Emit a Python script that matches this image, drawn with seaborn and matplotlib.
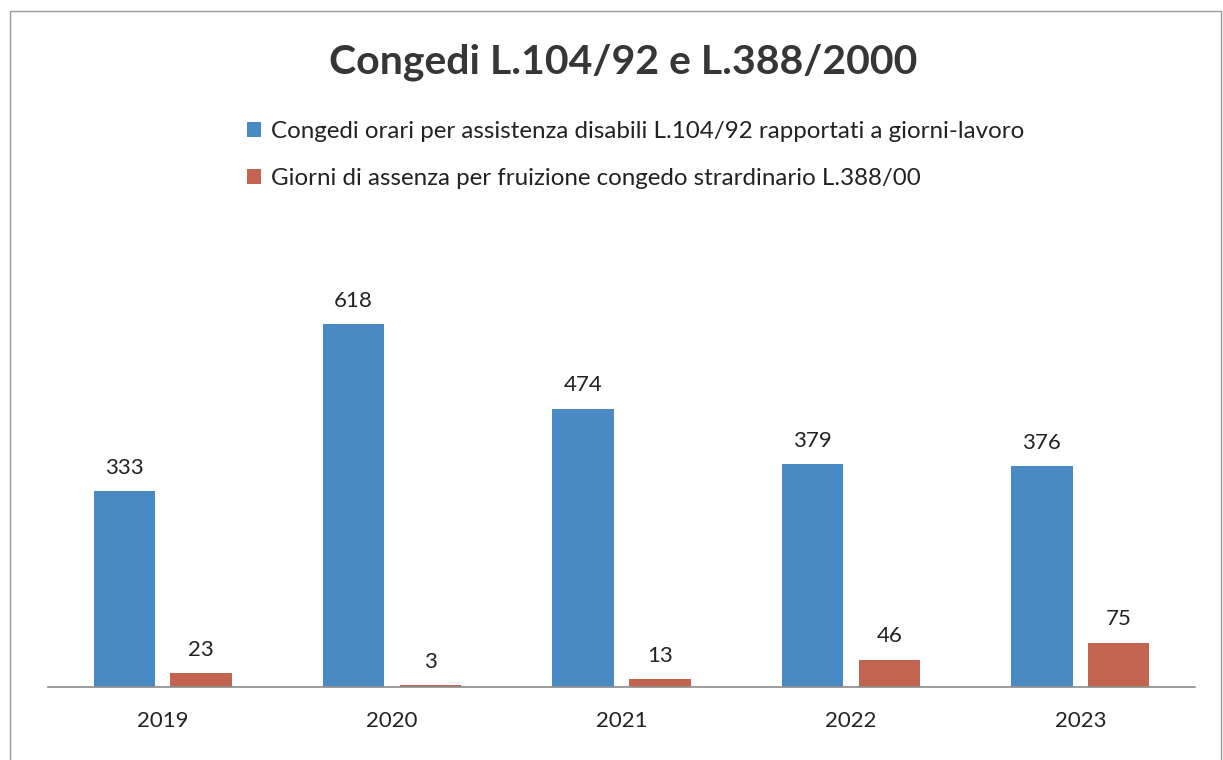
import matplotlib
matplotlib.use("Agg")
import matplotlib.pyplot as plt
import seaborn as sns
import pandas as pd
from matplotlib.patches import Rectangle

# Data
years = ["2019", "2020", "2021", "2022", "2023"]
series_names = [
    "Congedi orari per assistenza disabili L.104/92 rapportati a giorni-lavoro",
    "Giorni di assenza per fruizione congedo strardinario L.388/00",
]
congedi_orari = [333, 618, 474, 379, 376]
giorni_assenza = [23, 3, 13, 46, 75]

colors = ["#4A8AC4", "#C2644F"]

df = pd.DataFrame({
    "anno": years * 2,
    "serie": [series_names[0]] * len(years) + [series_names[1]] * len(years),
    "valore": congedi_orari + giorni_assenza,
})

sns.set_theme(style="white")
plt.rcParams["font.family"] = ["Lato", "DejaVu Sans"]

W, H = 1223, 760
fig = plt.figure(figsize=(W / 100, H / 100), dpi=100)
fig.patch.set_facecolor("white")

# axes placed in pixel coordinates
ax_left, ax_right = 48, 1195
ax_bottom, ax_top = 687, 276
ax = fig.add_axes([ax_left / W, 1 - ax_bottom / H,
                   (ax_right - ax_left) / W, (ax_bottom - ax_top) / H])

sns.barplot(data=df, x="anno", y="valore", hue="serie", hue_order=series_names,
            palette=colors, width=0.67, gap=0.2, ax=ax, saturation=1,
            edgecolor="none", linewidth=0)

ax.set_ylim(0, 700)
ax.set_xlim(-0.5, len(years) - 0.5)
ax.set_xlabel("")
ax.set_ylabel("")
ax.set_yticks([])
for side in ["top", "right", "left"]:
    ax.spines[side].set_visible(False)
ax.spines["bottom"].set_color("#8c8c8c")
ax.spines["bottom"].set_linewidth(1.2)
ax.tick_params(axis="x", length=0, pad=17.5, labelsize=16, labelcolor="#222222")

# value labels above each bar
for container in ax.containers:
    for rect in container:
        val = rect.get_height()
        ax.annotate(f"{val:.0f}",
                    (rect.get_x() + rect.get_width() / 2, val),
                    xytext=(0, 17), textcoords="offset points",
                    ha="center", va="center", fontsize=16, color="#222222")

# legend
handles, labels = ax.get_legend_handles_labels()
ax.legend_.remove()
fig.legend(handles, labels, loc="upper left",
           bbox_to_anchor=(247 / W, 1 - 121 / H),
           frameon=False, fontsize=17.4, labelcolor="#222222",
           handlelength=0.56, handleheight=0.56, handletextpad=0.42,
           labelspacing=1.07, borderpad=0, borderaxespad=0)

# title
fig.text(623 / W, 1 - 62 / H, "Congedi L.104/92 e L.388/2000",
         ha="center", va="center", fontsize=29.5, fontweight="bold",
         color="#363636")

# chart-area border
fig.patches.append(Rectangle((10.5 / W, -0.05), (1221 - 10.5) / W, 1.05 - 11 / H,
                             transform=fig.transFigure, fill=False,
                             edgecolor="#9a9a9a", linewidth=1.0))

fig.savefig("out.png", dpi=100, facecolor="white")
